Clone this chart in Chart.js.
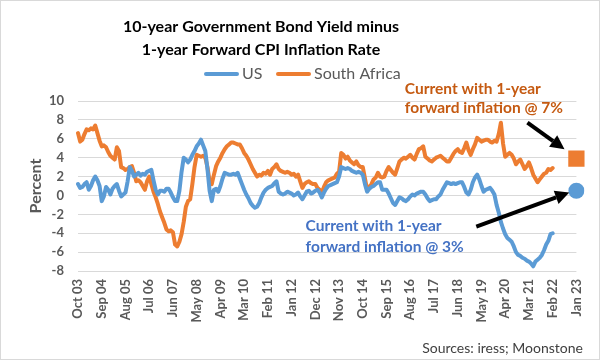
<!DOCTYPE html>
<html>
<head>
<meta charset="utf-8">
<script src="https://cdn.jsdelivr.net/npm/chart.js@4.4.0/dist/chart.umd.min.js"></script>
<style>
html,body{margin:0;padding:0;background:#fff;}
#wrap{width:600px;height:360px;position:relative;}
</style>
</head>
<body>
<div id="wrap"><canvas id="c" width="600" height="360"></canvas></div>
<script>
// ---- data ----
const monthNames = ['Jan','Feb','Mar','Apr','May','Jun','Jul','Aug','Sep','Oct','Nov','Dec'];
const startYear = 2003, startMonth = 9, monthCount = 232; // Oct 03 .. Jan 23
const categories = [];
for (let i = 0; i < monthCount; i++) {
  const m = (startMonth + i) % 12;
  const y = startYear + Math.floor((startMonth + i) / 12);
  categories.push(monthNames[m] + ' ' + String(y % 100).padStart(2, '0'));
}
const tickEvery = 11;

const usValues = [
1.2,0.8,0.9,1.2,1.4,0.6,1.0,1.6,2.0,1.6,
1.0,-0.6,-0.1,0.9,0.6,0.1,0.7,1.0,1.2,0.5,
-0.1,0.1,0.3,1.5,3.0,2.6,2.0,2.2,2.4,2.1,
2.3,2.2,2.5,2.6,2.7,1.6,0.6,0.1,0.5,0.5,
0.4,0.7,0.7,0.3,-0.2,-0.6,-0.6,0.5,2.5,4.0,
3.8,3.5,3.8,4.3,4.7,5.2,5.5,5.9,5.3,4.7,
2.8,0.5,-0.6,0.6,0.7,0.4,1.0,1.8,2.4,2.3,
2.2,2.2,2.3,2.2,2.4,1.8,1.2,0.6,0.1,-0.3,
-0.8,-1.1,-1.3,-1.2,-0.8,-0.2,0.3,0.6,0.8,0.9,
1.0,1.3,1.5,0.4,0.2,0.1,0.2,0.4,0.3,0.2,
0.0,0.1,0.3,-0.1,-0.4,0.0,0.4,0.5,0.2,0.3,
0.5,0.6,0.3,-0.2,0.3,0.7,1.0,1.1,1.2,1.3,
1.4,2.0,3.0,2.9,2.8,2.9,2.8,2.6,2.5,2.4,
2.5,2.4,2.2,1.2,0.4,0.7,0.9,1.0,1.2,1.4,
1.4,0.6,0.6,0.6,0.2,-0.3,-0.8,-1.0,-0.6,-0.2,
-0.3,-0.5,-0.6,-0.4,-0.1,0.1,0.0,0.2,0.3,0.4,
0.4,0.1,-0.3,-0.6,-0.5,-0.4,-0.4,-0.1,0.1,0.6,
1.0,1.4,1.3,1.2,1.3,1.2,1.3,1.4,1.4,0.9,
0.3,0.1,0.6,1.4,1.9,2.2,1.7,1.0,0.4,0.6,
0.7,0.8,0.5,0.1,-1.0,-1.8,-2.8,-3.5,-4.1,-4.5,
-4.7,-4.9,-5.4,-6.0,-6.3,-6.4,-6.6,-6.7,-6.9,-7.0,
-7.2,-7.5,-7.0,-6.8,-6.6,-6.3,-5.8,-5.2,-4.8,-4.1,
-4.0
];
const saValues = [
6.6,5.7,5.9,6.5,7.0,6.9,7.1,7.0,7.4,6.6,
5.8,5.2,5.3,5.1,4.6,4.2,4.0,3.8,5.1,4.7,
3.0,2.9,2.7,2.8,3.0,3.1,2.4,1.5,1.6,1.4,
1.0,0.6,1.5,2.0,1.2,0.4,-0.2,-0.9,-1.7,-2.3,
-2.9,-3.6,-3.8,-3.7,-3.9,-5.2,-5.4,-4.9,-4.1,-2.8,
-1.2,-0.6,-0.4,1.2,3.0,4.3,4.2,4.1,4.2,4.0,
3.0,1.5,1.2,2.2,3.1,3.6,4.0,4.5,4.9,5.2,
5.4,5.6,5.6,5.5,5.4,5.4,5.0,4.5,4.2,3.8,
3.3,2.8,2.4,2.0,2.2,2.1,2.4,2.3,2.6,2.2,
2.8,3.0,3.3,2.8,2.6,2.5,2.4,2.5,2.4,2.2,
2.3,2.0,2.2,1.5,0.8,1.2,1.4,1.5,1.3,1.2,
1.2,0.8,0.6,0.3,0.9,1.4,1.6,1.7,1.8,1.9,
2.3,2.5,4.5,4.3,3.9,4.1,3.7,3.5,3.3,3.6,
3.2,3.0,3.0,1.8,0.6,0.9,1.2,1.7,1.9,2.4,
2.0,1.9,2.0,2.6,3.0,2.7,2.4,2.2,2.9,3.6,
3.8,4.0,3.9,4.1,4.3,4.0,3.8,4.4,4.9,5.0,
5.2,4.1,3.9,3.7,3.6,3.8,4.0,4.1,4.2,4.0,
3.8,3.6,3.6,4.0,4.4,4.7,4.9,4.6,4.5,5.0,
5.6,4.8,4.3,4.9,5.4,6.1,5.9,5.7,5.8,5.9,
5.9,5.7,5.6,5.8,5.7,6.5,7.7,5.5,4.1,4.3,
4.5,4.3,3.9,3.3,3.6,3.8,3.3,2.8,3.1,3.5,
2.9,2.2,1.8,1.4,1.7,2.0,2.3,2.4,2.8,2.7,
2.9
];
const currentLabel = 'Jan 23';
const usCurrent = 0.5;
const saCurrent = 3.9;
const yTicks = {min: -8, max: 10, step: 2};

const titleLines = ['10-year Government Bond Yield minus', '1-year Forward CPI Inflation Rate'];
const saNote = ['Current with 1-year', 'forward inflation @ 7%'];
const usNote = ['Current with 1-year', 'forward inflation @ 3%'];
const sourceText = 'Sources: iress; Moonstone';

const US_COLOR = '#5B9BD5', SA_COLOR = '#ED7D31';
const FONT = 'Lato, "Open Sans", sans-serif';

const decor = {
  id: 'decor',
  beforeDraw(chart) {
    const ctx = chart.ctx;
    ctx.save();
    ctx.fillStyle = '#fff';
    ctx.fillRect(0, 0, chart.width, chart.height);
    ctx.strokeStyle = '#D9D9D9';
    ctx.lineWidth = 1;
    ctx.strokeRect(0.5, 0.5, chart.width - 1, chart.height - 1);
    ctx.restore();
  },
  afterDraw(chart) {
    const ctx = chart.ctx;
    const xs = chart.scales.x, ys = chart.scales.y;
    ctx.save();
    // title
    ctx.fillStyle = '#000';
    ctx.font = 'bold 16px ' + FONT;
    ctx.textAlign = 'center';
    ctx.textBaseline = 'middle';
    ctx.fillText(titleLines[0], 261, 27);
    ctx.fillText(titleLines[1], 261, 50);
    // legend (series names come from the datasets)
    ctx.font = '16px ' + FONT;
    ctx.textAlign = 'left';
    ctx.lineCap = 'round';
    ctx.lineWidth = 4;
    const legendItems = [
      {ds: chart.data.datasets[0], x: 206},
      {ds: chart.data.datasets[1], x: 278}
    ];
    legendItems.forEach(it => {
      ctx.strokeStyle = it.ds.borderColor;
      ctx.beginPath();
      ctx.moveTo(it.x, 74);
      ctx.lineTo(it.x + 31, 74);
      ctx.stroke();
      ctx.fillStyle = '#595959';
      ctx.fillText(it.ds.label, it.x + 36, 74);
    });
    // notes
    ctx.font = 'bold 15.5px ' + FONT;
    ctx.fillStyle = '#C55A11';
    const sx = xs.getPixelForValue(151.5);
    ctx.fillText(saNote[0], sx, ys.getPixelForValue(11.3));
    ctx.fillText(saNote[1], sx, ys.getPixelForValue(9.25));
    ctx.fillStyle = '#4472C4';
    const ux = xs.getPixelForValue(105.5);
    ctx.fillText(usNote[0], ux, ys.getPixelForValue(-3.2));
    ctx.fillText(usNote[1], ux, ys.getPixelForValue(-5.5));
    // arrows
    function arrow(i0, v0, i1, v1) {
      const x0 = xs.getPixelForValue(i0), y0 = ys.getPixelForValue(v0);
      const x1 = xs.getPixelForValue(i1), y1 = ys.getPixelForValue(v1);
      const a = Math.atan2(y1 - y0, x1 - x0);
      const hl = 14, hw = 7;
      const bx = x1 - hl * Math.cos(a), by = y1 - hl * Math.sin(a);
      ctx.strokeStyle = '#000';
      ctx.fillStyle = '#000';
      ctx.lineWidth = 4;
      ctx.lineCap = 'butt';
      ctx.beginPath();
      ctx.moveTo(x0, y0);
      ctx.lineTo(bx, by);
      ctx.stroke();
      ctx.beginPath();
      ctx.moveTo(x1, y1);
      ctx.lineTo(bx + hw * Math.sin(a), by - hw * Math.cos(a));
      ctx.lineTo(bx - hw * Math.sin(a), by + hw * Math.cos(a));
      ctx.closePath();
      ctx.fill();
    }
    arrow(208.3, 7.7, 225.5, 4.9);
    arrow(184.6, -3.3, 227.7, 0.3);
    // source
    ctx.font = '14px ' + FONT;
    ctx.fillStyle = '#404040';
    ctx.textAlign = 'right';
    ctx.fillText(sourceText, 583, 348);
    ctx.restore();
  }
};

new Chart(document.getElementById('c'), {
  type: 'line',
  data: {
    labels: categories,
    datasets: [
      {label: 'US', data: usValues, borderColor: US_COLOR, backgroundColor: US_COLOR, borderWidth: 4, pointRadius: 0, tension: 0, borderJoinStyle: 'round', borderCapStyle: 'round'},
      {label: 'South Africa', data: saValues, borderColor: SA_COLOR, backgroundColor: SA_COLOR, borderWidth: 4, pointRadius: 0, tension: 0, borderJoinStyle: 'round', borderCapStyle: 'round'},
      {label: 'SA current', data: [{x: currentLabel, y: saCurrent}], showLine: false, pointStyle: 'rect', pointRadius: 11.5, pointBackgroundColor: SA_COLOR, pointBorderWidth: 0, borderColor: SA_COLOR},
      {label: 'US current', data: [{x: currentLabel, y: usCurrent}], showLine: false, pointStyle: 'circle', pointRadius: 8, pointBackgroundColor: US_COLOR, pointBorderWidth: 0, borderColor: US_COLOR}
    ]
  },
  options: {
    responsive: false,
    animation: false,
    layout: {padding: {top: 101, right: 20, bottom: 0, left: 10}},
    plugins: {
      legend: {display: false},
      tooltip: {enabled: false}
    },
    scales: {
      x: {
        type: 'category',
        offset: false,
        grid: {display: false, drawTicks: false},
        border: {display: false},
        ticks: {
          autoSkip: false, maxRotation: 90, minRotation: 90, padding: 8,
          color: '#595959', font: {family: FONT, size: 13, weight: 'bold'},
          callback: function(v, i) { return i % tickEvery === 0 ? this.getLabelForValue(v) : null; }
        },
        afterFit(s) { s.height = 89; }
      },
      y: {
        min: yTicks.min, max: yTicks.max,
        grid: {color: '#D9D9D9', drawTicks: false},
        border: {display: false},
        ticks: {stepSize: yTicks.step, padding: 14, color: '#595959', font: {family: FONT, size: 13, weight: 'bold'}},
        title: {display: true, text: 'Percent', color: '#595959', font: {family: FONT, size: 16, weight: 'bold'}, padding: {top: 16, bottom: 0}},
        afterFit(s) { s.width = 68; }
      }
    }
  },
  plugins: [decor]
});
</script>
</body>
</html>
